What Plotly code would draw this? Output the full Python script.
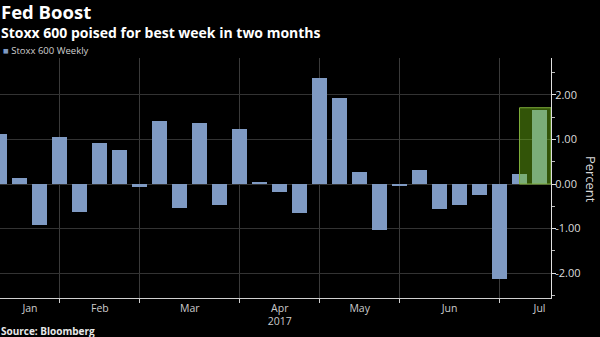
import pandas as pd
import plotly.graph_objects as go

# ---- data ----
week_ending = list(pd.date_range("2017-01-06", periods=28, freq="W-FRI"))
weekly_pct = [1.12, 0.13, -0.92, 1.05, -0.63, 0.92, 0.77, -0.06, 1.41, -0.54,
              1.37, -0.48, 1.23, 0.04, -0.18, -0.65, 2.37, 1.92, 0.28, -1.04,
              -0.05, 0.31, -0.55, -0.46, -0.25, -2.13, 0.22, 1.66]
month_labels = ["Jan", "Feb", "Mar", "Apr<br>2017", "May", "Jun", "Jul"]
y_tickvals = [-2, -1, 0, 1, 2]
y_ticktext = ["-2.00", "-1.00", "0.00", "1.00", "2.00"]
highlight_from = week_ending[26]   # highlighted period starts at this week
highlight_top = 1.71

title = "Fed Boost"
subtitle = "Stoxx 600 poised for best week in two months"
series_name = "Stoxx 600 Weekly"
source = "Source: Bloomberg"

# ---- derived axis positions ----
s = pd.Series(week_ending)
month_ends = list(s.groupby(s.dt.month).max())  # last week of each month
boundaries = month_ends[:-1]
starts = [week_ending[0]] + boundaries
ends = boundaries + [boundaries[-1] + pd.Timedelta(weeks=4)]
label_pos = [a + (b - a) / 2 for a, b in zip(starts, ends)]

week = pd.Timedelta(days=7)
x_range = [week_ending[0], week_ending[-1] + 0.575 * week]

BLUE = "#7f9ac3"
FONT = "Open Sans"

fig = go.Figure()
fig.add_trace(go.Bar(
    x=week_ending, y=weekly_pct, name=series_name,
    marker=dict(color=BLUE, line=dict(width=0)),
    width=0.75 * week.total_seconds() * 1000,
    showlegend=False,
))

fig.add_shape(type="rect", xref="x", yref="y",
              x0=highlight_from, x1=x_range[1], y0=0, y1=highlight_top,
              fillcolor="rgba(120,200,20,0.42)",
              line=dict(color="#7fae3a", width=1), layer="above")

PLOT_TOP, PLOT_BOT = 58.3, 298.3
H = PLOT_BOT - PLOT_TOP
def py(p):
    return (PLOT_BOT - p) / H

annos = [
    dict(text="<b>" + title + "</b>", x=0, y=py(11.8), font=dict(size=18.5, color="white")),
    dict(text="<b>" + subtitle + "</b>", x=0, y=py(32.6), font=dict(size=14, color="white")),
    dict(text="<span style='color:%s'>■</span> %s" % (BLUE, series_name), x=0.004, y=py(50.8),
         font=dict(size=9.5, color="#cfcfcf")),
    dict(text="<b>" + source + "</b>", x=0, y=py(331), font=dict(size=10, color="#e8e8e8")),
]
for a in annos:
    fig.add_annotation(xref="paper", yref="paper", xanchor="left", yanchor="middle",
                       showarrow=False, borderpad=0, **a)
fig.add_annotation(text="Percent", xref="paper", yref="paper", x=590.5 / 550.7, y=py(180),
                   xanchor="center", yanchor="middle", textangle=90, showarrow=False,
                   borderpad=0, font=dict(family=FONT, size=13, color="#d8d8d8"))

fig.update_layout(
    width=600, height=337,
    margin=dict(l=0, r=49.3, t=PLOT_TOP, b=337 - PLOT_BOT, pad=0),
    paper_bgcolor="black", plot_bgcolor="black",
    font=dict(family=FONT, color="#cccccc"),
    bargap=0,
)
fig.update_xaxes(
    type="date", range=x_range,
    showline=True, linecolor="#d0d0d0", linewidth=1,
    tickmode="array", tickvals=label_pos, ticktext=month_labels,
    ticks="", showgrid=False, zeroline=False,
    tickfont=dict(size=10.5, color="#cccccc", family=FONT),
    minor=dict(tickmode="array", tickvals=boundaries, ticks="outside", ticklen=4,
               tickcolor="#d0d0d0", showgrid=True, gridcolor="#3a3a3a", gridwidth=1),
)
fig.update_yaxes(
    side="right", range=[-2.556, 2.825],
    showline=True, linecolor="#e0e0e0", linewidth=1,
    tickmode="array", tickvals=y_tickvals, ticktext=y_ticktext,
    ticks="outside", ticklen=4, tickcolor="#e0e0e0", ticklabelstandoff=-3,
    tickfont=dict(size=11, color="#dddddd", family=FONT),
    showgrid=True, gridcolor="#333333", gridwidth=1, zeroline=False,
    minor=dict(dtick=0.5, tick0=0, ticks="outside", ticklen=3, tickcolor="#bbbbbb", showgrid=False),
)

fig.write_html("out.html")
